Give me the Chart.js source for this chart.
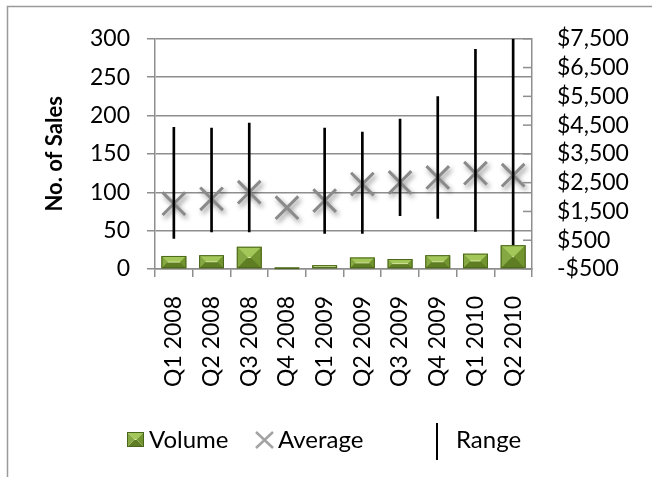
<!DOCTYPE html>
<html>
<head>
<meta charset="utf-8">
<script src="https://cdn.jsdelivr.net/npm/chart.js@4.4.1/dist/chart.umd.min.js"></script>
<style>
  html, body { margin: 0; padding: 0; background: #ffffff; }
  #wrap { width: 652px; height: 477px; position: relative; }
</style>
</head>
<body>
<div id="wrap"><canvas id="c" width="652" height="477"></canvas></div>
<script>
// Quarterly sales: volume (count), average sale price, and price range (low/high)
const quarters = ['Q1 2008', 'Q2 2008', 'Q3 2008', 'Q4 2008', 'Q1 2009',
                  'Q2 2009', 'Q3 2009', 'Q4 2009', 'Q1 2010', 'Q2 2010'];
const volume = [17, 18, 29, 1, 5, 15, 13, 18, 20, 31];
const averagePrice = [1770, 1940, 2170, 1630, 1880, 2450, 2510, 2680, 2830, 2760];
const rangeLow = [565, 790, 790, null, 740, 740, 1350, 1260, 810, 300];
const rangeHigh = [4425, 4400, 4575, null, 4400, 4260, 4710, 5490, 7130, 7500];

const salesAxis = { min: 0, max: 300, step: 50 };
const priceAxis = { min: -500, max: 7500, step: 1000 };

const FONT = 'Lato, "Open Sans", "Liberation Sans", sans-serif';
const GRID = '#8e8e8e';

function money(v) {
  const s = Math.abs(v).toLocaleString('en-US');
  return (v < 0 ? '-$' : '$') + s;
}

// Paints a bevelled ("pyramid") face onto a rectangle
function bevelBox(ctx, left, top, right, bottom) {
  const w = right - left, h = bottom - top;
  if (w <= 0 || h <= 0) return;
  const d = Math.min(w, h) / 2;
  const faces = [
    { c: '#a4c75a', p: [[left, top], [right, top], [right - d, top + d], [left + d, top + d]] },
    { c: '#5f7e24', p: [[left, bottom], [right, bottom], [right - d, bottom - d], [left + d, bottom - d]] },
    { c: '#86a843', p: [[left, top], [left + d, top + d], [left + d, bottom - d], [left, bottom]] },
    { c: '#739530', p: [[right, top], [right - d, top + d], [right - d, bottom - d], [right, bottom]] }
  ];
  ctx.save();
  if (h > 2 * d) {
    ctx.fillStyle = '#7b9d36';
    ctx.fillRect(left + d, top + d, w - 2 * d, h - 2 * d);
  }
  faces.forEach(f => {
    ctx.beginPath();
    ctx.moveTo(f.p[0][0], f.p[0][1]);
    for (let i = 1; i < f.p.length; i++) ctx.lineTo(f.p[i][0], f.p[i][1]);
    ctx.closePath();
    ctx.fillStyle = f.c;
    ctx.fill();
  });
  // highlight along the inner edge of the top face
  ctx.strokeStyle = 'rgba(222,240,170,0.9)';
  ctx.lineWidth = 1;
  ctx.beginPath();
  ctx.moveTo(left + d, top + d);
  ctx.lineTo(right - d, top + d);
  ctx.stroke();
  ctx.strokeStyle = '#4a661b';
  ctx.lineWidth = 1;
  ctx.strokeRect(left + 0.5, top + 0.5, w - 1, h - 1);
  ctx.restore();
}

const framePlugin = {
  id: 'frame',
  beforeDraw(chart) {
    const ctx = chart.ctx;
    ctx.save();
    ctx.fillStyle = '#ffffff';
    ctx.fillRect(0, 0, chart.width, chart.height);
    ctx.strokeStyle = '#9a9a9a';
    ctx.lineWidth = 1.5;
    ctx.beginPath();
    ctx.moveTo(chart.width, 6.5);
    ctx.lineTo(7.5, 6.5);
    ctx.lineTo(7.5, chart.height);
    ctx.stroke();
    ctx.restore();
  }
};

const bevelPlugin = {
  id: 'bevel',
  afterDatasetDraw(chart, args) {
    if (chart.data.datasets[args.index].label !== 'Volume') return;
    const ctx = chart.ctx;
    const area = chart.chartArea;
    ctx.save();
    ctx.beginPath();
    ctx.rect(area.left, area.top, area.right - area.left, area.bottom - area.top + 1);
    ctx.clip();
    args.meta.data.forEach(el => {
      const p = el.getProps(['x', 'y', 'base', 'width'], true);
      bevelBox(ctx, p.x - p.width / 2, Math.min(p.y, p.base), p.x + p.width / 2, Math.max(p.y, p.base));
    });
    ctx.restore();
  }
};

const shadowPlugin = {
  id: 'markerShadow',
  beforeDatasetDraw(chart, args) {
    const ds = chart.data.datasets[args.index];
    if (ds.label !== 'Average' && ds.label !== 'Volume') return;
    const ctx = chart.ctx;
    ctx.save();
    ctx.shadowColor = ds.label === 'Average' ? 'rgba(0,0,0,0.45)' : 'rgba(0,0,0,0.3)';
    ctx.shadowBlur = 5;
    ctx.shadowOffsetX = 2;
    ctx.shadowOffsetY = 3;
  },
  afterDatasetDraw(chart, args) {
    const ds = chart.data.datasets[args.index];
    if (ds.label !== 'Average' && ds.label !== 'Volume') return;
    chart.ctx.restore();
  }
};

// Right-hand price axis carries its tick marks on the inner side
const innerTicks = {
  id: 'innerTicks',
  afterDraw(chart) {
    const s = chart.scales.y1;
    const ctx = chart.ctx;
    ctx.save();
    ctx.strokeStyle = GRID;
    ctx.lineWidth = 1.5;
    s.ticks.forEach(t => {
      const y = s.getPixelForValue(t.value);
      ctx.beginPath();
      ctx.moveTo(s.left - 9, y);
      ctx.lineTo(s.left, y);
      ctx.stroke();
    });
    ctx.restore();
  }
};

const legendPlugin = {
  id: 'bottomLegend',
  afterDraw(chart) {
    const ctx = chart.ctx;
    const cy = 440;
    ctx.save();
    ctx.font = '24px ' + FONT;
    ctx.fillStyle = '#000000';
    ctx.textBaseline = 'middle';
    ctx.textAlign = 'left';
    // Volume
    bevelBox(ctx, 127, 432, 144, 447);
    ctx.fillText('Volume', 149, cy);
    // Average
    ctx.strokeStyle = '#a3a3a3';
    ctx.lineWidth = 2.5;
    ctx.beginPath();
    ctx.moveTo(256, cy - 8); ctx.lineTo(273, cy + 8);
    ctx.moveTo(273, cy - 8); ctx.lineTo(256, cy + 8);
    ctx.stroke();
    ctx.fillText('Average', 278, cy);
    // Range
    ctx.strokeStyle = '#000000';
    ctx.lineWidth = 2;
    ctx.beginPath();
    ctx.moveTo(437, 423); ctx.lineTo(437, 460);
    ctx.stroke();
    ctx.fillText('Range', 456, cy);
    ctx.restore();
  }
};

const rangeBars = quarters.map((q, i) =>
  rangeLow[i] == null || rangeHigh[i] == null ? null : [rangeLow[i], rangeHigh[i]]);

new Chart(document.getElementById('c'), {
  type: 'bar',
  data: {
    labels: quarters,
    datasets: [
      {
        type: 'bar', label: 'Volume', data: volume, yAxisID: 'y',
        backgroundColor: '#7b9d36', borderColor: '#4a661b', borderWidth: 1,
        barPercentage: 0.66, categoryPercentage: 1, grouped: false, order: 0
      },
      {
        type: 'bar', label: 'Range', data: rangeBars, yAxisID: 'y1',
        backgroundColor: '#000000', barThickness: 2, grouped: false, order: 1
      },
      {
        type: 'line', label: 'Average', data: averagePrice, yAxisID: 'y1',
        showLine: false, pointStyle: 'crossRot', pointRadius: 16, pointHoverRadius: 16,
        pointBorderWidth: 3, pointBorderColor: '#8a8a8a', pointBackgroundColor: '#8a8a8a',
        order: 2
      }
    ]
  },
  options: {
    responsive: false,
    animation: false,
    devicePixelRatio: 1,
    layout: { padding: { top: 36, left: 0, right: 0, bottom: 0 } },
    plugins: { legend: { display: false }, tooltip: { enabled: false } },
    scales: {
      x: {
        offset: true,
        grid: { offset: true, drawOnChartArea: false, tickLength: 8, color: GRID, lineWidth: 1.5 },
        border: { display: true, color: GRID, width: 1.5 },
        ticks: {
          maxRotation: 90, minRotation: 90, autoSkip: false, padding: 19,
          color: '#000000', font: { family: FONT, size: 23 }
        },
        afterFit(s) { s.height = 208; }
      },
      y: {
        position: 'left',
        min: salesAxis.min, max: salesAxis.max,
        ticks: { stepSize: salesAxis.step, autoSkip: false, padding: 17, color: '#000000', font: { family: FONT, size: 23 } },
        grid: { color: GRID, lineWidth: 1.5, tickLength: 8 },
        border: { display: true, color: GRID, width: 1.5 },
        title: {
          display: true, text: 'No. of Sales', color: '#000000',
          font: { family: FONT, size: 22, weight: 'bold' },
          padding: { top: 42, bottom: 0 }
        },
        afterFit(s) { s.width = 155; }
      },
      y1: {
        position: 'right',
        min: priceAxis.min, max: priceAxis.max,
        ticks: {
          stepSize: priceAxis.step, autoSkip: false, padding: 25, color: '#000000',
          font: { family: FONT, size: 23 },
          callback: v => money(v)
        },
        grid: { display: false, drawTicks: false },
        border: { display: true, color: GRID, width: 1.5 },
        afterFit(s) { s.width = 120; }
      }
    }
  },
  plugins: [framePlugin, shadowPlugin, bevelPlugin, innerTicks, legendPlugin]
});
</script>
</body>
</html>
